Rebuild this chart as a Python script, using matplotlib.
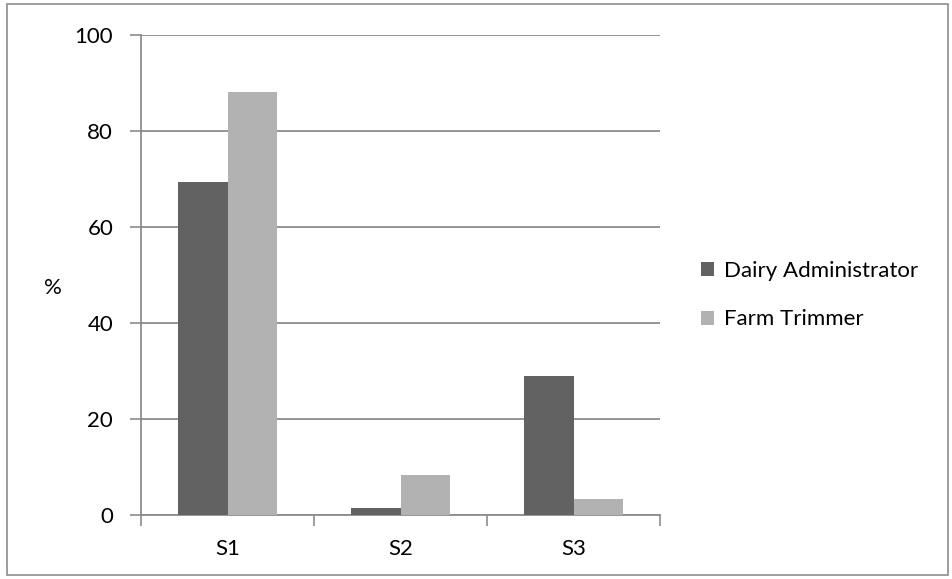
import numpy as np
import matplotlib
matplotlib.use("Agg")
import matplotlib.pyplot as plt
from matplotlib.patches import Rectangle

categories = ["S1", "S2", "S3"]
dairy_admin = [69.4, 1.4, 29.0]
farm_trimmer = [88.2, 8.3, 3.3]
series_names = ["Dairy Administrator", "Farm Trimmer"]
y_ticks = [0, 20, 40, 60, 80, 100]

DARK = "#626262"
LIGHT = "#b2b2b2"
GRID = "#8c8c8c"
FS = 16

plt.rcParams["font.family"] = ["Lato", "DejaVu Sans"]

fig = plt.figure(figsize=(9.52, 5.79), dpi=100)
W, H = 952, 579
ax = fig.add_axes([141 / W, 1 - 515 / H, (660 - 141) / W, (515 - 35) / H])

x = np.arange(len(categories))
bw = 1 / 3.5
ax.bar(x - bw / 2, dairy_admin, bw, color=DARK, label=series_names[0], zorder=3)
ax.bar(x + bw / 2, farm_trimmer, bw, color=LIGHT, label=series_names[1], zorder=3)

ax.set_xlim(-0.5, len(categories) - 0.5)
ax.set_ylim(0, 100)
ax.set_yticks(y_ticks)
ax.set_xticks(x)
ax.set_xticklabels(categories)
ax.set_xticks(np.arange(len(categories) + 1) - 0.5, minor=True)
ax.tick_params(axis="x", which="major", length=0, pad=17, labelsize=FS)
ax.tick_params(axis="x", which="minor", length=8, color=GRID, width=1.2)
ax.tick_params(axis="y", length=8, color=GRID, width=1.2, pad=12, labelsize=FS)
ax.yaxis.grid(True, color=GRID, linewidth=1.3, zorder=0)

for s in ["top", "right"]:
    ax.spines[s].set_visible(False)
for s in ["left", "bottom"]:
    ax.spines[s].set_color(GRID)
    ax.spines[s].set_linewidth(1.3)

fig.text(53 / W, 1 - 288 / H, "%", fontsize=FS, ha="center", va="center")

ax.legend(loc="center left", bbox_to_anchor=(690 / W, 1 - 295 / H),
          bbox_transform=fig.transFigure, frameon=False, fontsize=FS,
          handlelength=0.6, handleheight=0.6, handletextpad=0.45,
          labelspacing=1.3, borderpad=0)

fig.patches.append(Rectangle((7 / W, 4 / H), (948 - 7) / W, (575 - 4) / H,
                             transform=fig.transFigure, fill=False,
                             edgecolor="#8c8c8c", linewidth=1.2))

fig.savefig("out.png", dpi=100)
